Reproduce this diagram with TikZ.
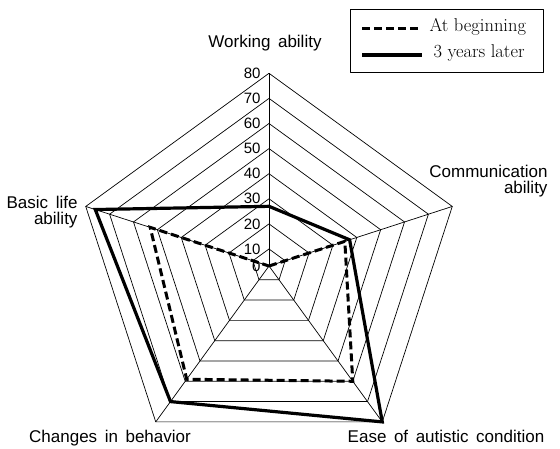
\documentclass[tikz,border=0pt]{standalone}
\usepackage{fontspec}
\newfontfamily\axisfont[WordSpace=1.6]{Liberation Sans}
\usepackage{tikz}
\usetikzlibrary{arrows,calc}

\tikzset{
  grid/.style={line width=0.7bp},
  atstart/.style={line width=3bp, dash pattern=on 8bp off 4bp, line join=miter},
  later/.style={line width=3.2bp, line join=miter},
  axislabel/.style={font=\axisfont\fontsize{17bp}{16bp}\selectfont, inner sep=0pt},
  ticklabel/.style={font=\axisfont\fontsize{15bp}{15bp}\selectfont, inner sep=0pt, anchor=east},
  legendtext/.style={font=\fontsize{18.5bp}{18bp}\selectfont, inner sep=0pt, anchor=mid west},
}

\begin{document}
\begin{tikzpicture}[x=1bp,y=1bp,line join=bevel]
  \useasboundingbox (0,0) rectangle (560,449);
  \pgfsetlinewidth{1bp}
%%
\begin{scope}[shift={(269,183)}]
  \coordinate (O) at (0,0);
  % Grid: rings 10 ... 80
  \foreach \k [evaluate=\k as \r using 17+25.1*(\k-1)] in {1,...,8}
    \draw[grid] (90:\r) -- (18:\r) -- (-54:\r) -- (-126:\r) -- (162:\r) -- cycle;
  % Grid: spokes
  \foreach \ang [count=\i] in {90,18,-54,-126,162}{
    \coordinate (ax\i) at (\ang:192.7);
    \draw[grid] (O) -- (ax\i);
  }
  % Tick labels
  \node[ticklabel] (t0) at (-8,0) {0};
  \foreach \k [evaluate=\k as \r using 17+25.1*(\k-1)] in {1,...,8}
    \node[ticklabel] (t\k) at (-8,\r) {\the\numexpr\k*10\relax};
  % Data: at beginning
  \foreach \ang/\v [count=\i] in {90/0, 18/35, -54/60, -126/59, 162/53}
    \coordinate (b\i) at (\ang:{max(0,17+2.51*(\v-10))});
  % Data: 3 years later
  \foreach \ang/\v [count=\i] in {90/27, 18/37, -54/80, -126/70, 162/76}
    \coordinate (l\i) at (\ang:{max(0,17+2.51*(\v-10))});
  % Edge: At beginning
  \draw[atstart] (b1) -- (b2) -- (b3) -- (b4) -- (b5) -- cycle;
  % Edge: 3 years later
  \draw[later] (l1) -- (l2) -- (l3) -- (l4) -- (l5) -- cycle;
\end{scope}
  % Node: axis labels
  \node[axislabel, anchor=base] (work) at (265,401) {Working ability};
  \node[axislabel, anchor=north east, align=right] (comm) at (548,284) {Communication\\ability};
  \node[axislabel, anchor=base] (ease) at (446,6) {Ease of autistic condition};
  \node[axislabel, anchor=base] (behav) at (110,6) {Changes in behavior};
  \node[axislabel, anchor=north east, align=right] (basic) at (78,253) {Basic life\\ability};
  % Node: legend
  \node[draw, line width=0.8bp, minimum width=193bp, minimum height=63bp, anchor=north west] (legend) at (350,440) {};
  \coordinate (k1a) at (362,420);
  \coordinate (k1b) at (420,420);
  \coordinate (k2a) at (362,394);
  \coordinate (k2b) at (422,394);
  \draw[atstart] (k1a) -- (k1b);
  \draw[later] (k2a) -- (k2b);
  \node[legendtext] (kt1) at (429,420) {At beginning};
  \node[legendtext] (kt2) at (433,394) {3 years later};
%
\end{tikzpicture}
\end{document}
